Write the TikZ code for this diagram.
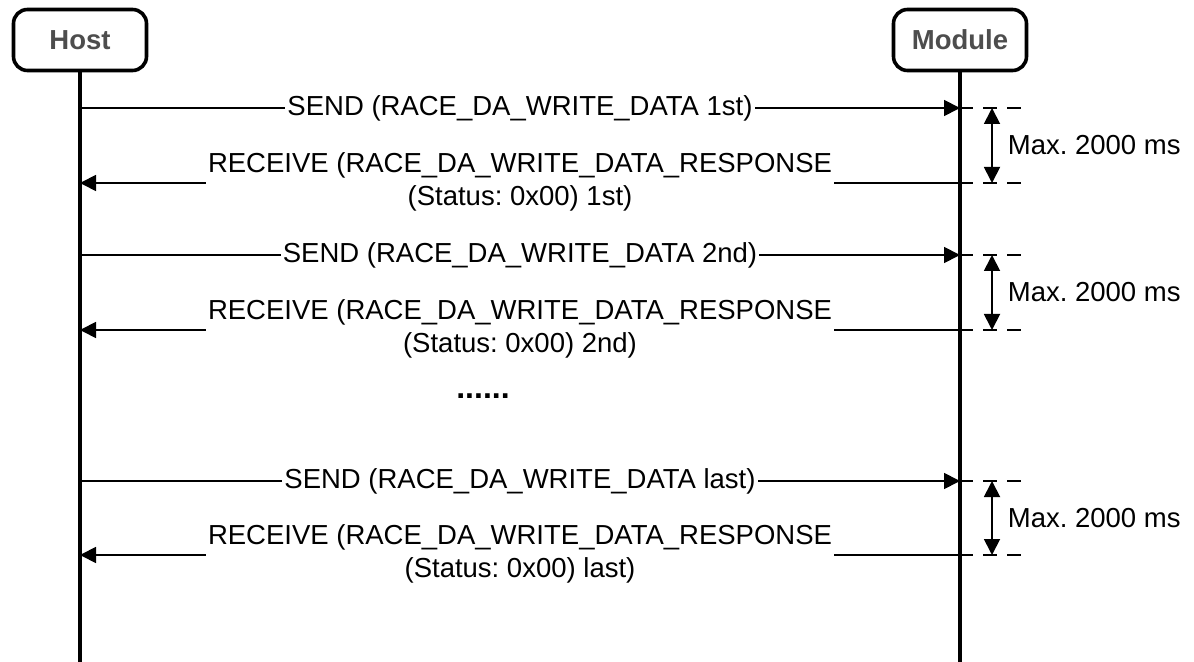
\documentclass[tikz,border=0pt]{standalone}
\usepackage{fontspec}
\setmainfont{Liberation Sans}
\usetikzlibrary{arrows.meta}
\definecolor{hdrC}{RGB}{77,77,77}
\frenchspacing
\tikzset{
  party/.style = {draw, rounded corners=7pt, line width=1.8pt, fill=white,
                  minimum width=66.5pt, minimum height=30.5pt,
                  font=\bfseries\fontsize{13.75}{16}\selectfont, text=hdrC},
  life/.style  = {line width=2pt},
  msg/.style   = {-{Triangle[length=8pt, width=8pt]}, line width=0.9pt},
  lbl/.style   = {fill=white, inner xsep=1pt, inner ysep=0pt, align=center,
                  font=\fontsize{13.75}{16.5}\selectfont},
  ext/.style   = {line width=0.8pt, dash pattern=on 7pt off 5pt,
                  dash phase=0.5pt},
  dur/.style   = {{Triangle[length=8pt, width=8pt]}-{Triangle[length=8pt, width=8pt]},
                  line width=0.9pt},
  durlbl/.style= {font=\fontsize{13.75}{16.5}\selectfont, inner sep=0pt},
}

\begin{document}
\begin{tikzpicture}[x=0.5pt, y=-0.5pt]
\useasboundingbox (0,0) rectangle (1194,662);

% ============================================================
%  Parties and lifelines
% ============================================================

\def\xH{80}     % host lifeline
\def\xM{960}    % module lifeline
\def\xD{992}    % duration arrow
\def\xE{1022}   % end of dashed marks

\node[party] (host)   at (\xH, 40) {Host};
\node[party] (module) at (\xM, 40) {Module};

\coordinate (hostEnd)   at (\xH, 662);
\coordinate (moduleEnd) at (\xM, 662);

\draw[life] (host.south)   -- (hostEnd);
\draw[life] (module.south) -- (moduleEnd);

% ============================================================
%  Block 1
% ============================================================

\coordinate (h1s) at (\xH, 108);  \coordinate (m1s) at (\xM, 108);
\coordinate (h1r) at (\xH, 183);  \coordinate (m1r) at (\xM, 183);
\coordinate (e1s) at (\xE, 108);  \coordinate (e1r) at (\xE, 183);
\coordinate (d1s) at (\xD, 108);  \coordinate (d1r) at (\xD, 183);

\draw[msg] (h1s) -- node[lbl] (send1) {SEND (RACE\_DA\_WRITE\_DATA 1st)} (m1s);
\draw[msg] (m1r) -- node[lbl, yshift=0.75pt] (recv1)
  {RECEIVE (RACE\_DA\_WRITE\_DATA\_RESPONSE\\(Status: 0x00) 1st)} (h1r);
\draw[ext] (m1s) -- (e1s);
\draw[ext] (m1r) -- (e1r);
\draw[dur] (d1s) -- node[durlbl, right=7.5pt] (max1) {Max. 2000 ms} (d1r);

% ============================================================
%  Block 2
% ============================================================

\coordinate (h2s) at (\xH, 255);  \coordinate (m2s) at (\xM, 255);
\coordinate (h2r) at (\xH, 330);  \coordinate (m2r) at (\xM, 330);
\coordinate (e2s) at (\xE, 255);  \coordinate (e2r) at (\xE, 330);
\coordinate (d2s) at (\xD, 255);  \coordinate (d2r) at (\xD, 330);

\draw[msg] (h2s) -- node[lbl] (send2) {SEND (RACE\_DA\_WRITE\_DATA 2nd)} (m2s);
\draw[msg] (m2r) -- node[lbl, yshift=0.75pt] (recv2)
  {RECEIVE (RACE\_DA\_WRITE\_DATA\_RESPONSE\\(Status: 0x00) 2nd)} (h2r);
\draw[ext] (m2s) -- (e2s);
\draw[ext] (m2r) -- (e2r);
\draw[dur] (d2s) -- node[durlbl, right=7.5pt] (max2) {Max. 2000 ms} (d2r);

% --- gap ---
\node[durlbl, font=\bfseries\fontsize{16}{16}\selectfont] (dots) at (483, 396) {......};

% ============================================================
%  Last block
% ============================================================

\coordinate (h3s) at (\xH, 481);  \coordinate (m3s) at (\xM, 481);
\coordinate (h3r) at (\xH, 555);  \coordinate (m3r) at (\xM, 555);
\coordinate (e3s) at (\xE, 481);  \coordinate (e3r) at (\xE, 555);
\coordinate (d3s) at (\xD, 481);  \coordinate (d3r) at (\xD, 555);

\draw[msg] (h3s) -- node[lbl] (send3) {SEND (RACE\_DA\_WRITE\_DATA last)} (m3s);
\draw[msg] (m3r) -- node[lbl, yshift=0.75pt] (recv3)
  {RECEIVE (RACE\_DA\_WRITE\_DATA\_RESPONSE\\(Status: 0x00) last)} (h3r);
\draw[ext] (m3s) -- (e3s);
\draw[ext] (m3r) -- (e3r);
\draw[dur] (d3s) -- node[durlbl, right=7.5pt] (max3) {Max. 2000 ms} (d3r);

\end{tikzpicture}
\end{document}
